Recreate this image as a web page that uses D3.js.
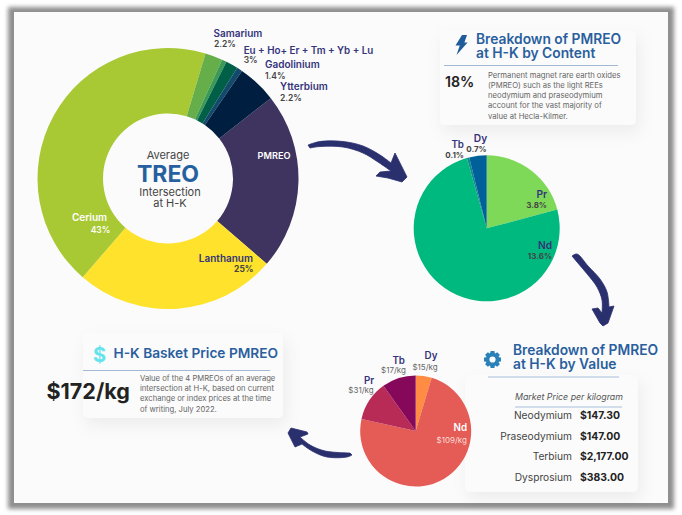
<!DOCTYPE html>
<html><head><meta charset="utf-8">
<script src="https://d3js.org/d3.v7.min.js"></script>
<style>
html,body{margin:0;padding:0;background:#fff;width:682px;height:515px;overflow:hidden}
svg{display:block;font-family:Inter,"Noto Sans",sans-serif}
</style></head><body>
<svg id="c" width="682" height="515" viewBox="0 0 682 515"></svg>
<script>
// ---- data ----
const treoNames   = ["PMREO","Lanthanum","Cerium","Samarium","Europium group","Gadolinium group","Thin band","Ytterbium"];
const treoSlices  = [21.9,25,43.3,2.15,0.6,1.5,0.7,4.85];
const treoColors  = ["#3f345f","#fee22b","#a9c934","#66ae4a","#3c9a56","#005f47","#134a6b","#001f40"];
const contentNames  = ["Pr","Nd","Tb","Dy"];
const contentValues = [3.8,13.6,0.1,0.7];
const contentColors = ["#7fd958","#00b97f","#0f8a90","#00609a"];
const valueNames  = ["Dy","Nd","Pr","Tb"];
const valueSlices = [8,127,20,17];
const valueColors = ["#ff8c42","#e45c55","#b82b57","#85085a"];
const priceNames  = ["Neodymium","Praseodymium","Terbium","Dysprosium"];
const priceValues = ["$147.30","$147.00","$2,177.00","$383.00"];

const svg = d3.select("#c");
const defs = svg.append("defs");
const blur = defs.append("filter").attr("id","frameBlur").attr("x","-5%").attr("y","-5%").attr("width","110%").attr("height","110%");
blur.append("feGaussianBlur").attr("stdDeviation",2);
const sh = defs.append("filter").attr("id","cardShadow").attr("x","-15%").attr("y","-25%").attr("width","130%").attr("height","160%");
sh.append("feDropShadow").attr("dx",3).attr("dy",7).attr("stdDeviation",8).attr("flood-color","#000").attr("flood-opacity",0.06);

// frame
svg.append("rect").attr("x",8).attr("y",7).attr("width",666).attr("height",502).attr("fill","#8f8f8f").attr("filter","url(#frameBlur)");
svg.append("rect").attr("x",14).attr("y",12).attr("width",654).attr("height",491).attr("fill","#fbfbfb");

// cards
function card(x,y,w,h){
  svg.append("rect").attr("x",x).attr("y",y).attr("width",w).attr("height",h).attr("rx",5)
    .attr("fill","#fbfbfb").attr("filter","url(#cardShadow)");
}
card(440,30,196,95);
card(83,333,200,85);
card(465,375,173,117);

// pies
function pie(cx,cy,r0,r1,vals,cols,startDeg){
  const p = d3.pie().sort(null).value(d=>d)
    .startAngle(startDeg*Math.PI/180).endAngle((startDeg+360)*Math.PI/180)(vals);
  const arc = d3.arc().innerRadius(r0).outerRadius(r1);
  svg.append("g").attr("transform",`translate(${cx},${cy})`)
    .selectAll("path").data(p).join("path").attr("d",arc).attr("fill",(d,i)=>cols[i]);
}
pie(168,178.5,65,130.5,treoSlices,treoColors,52);
pie(486.7,228.3,0,73,contentValues,contentColors,0);
pie(415.7,431,0,55.5,valueSlices,valueColors,0);

function t(s,x,y,size,weight,fill,anchor,style){
  return svg.append("text").attr("x",x).attr("y",y).attr("font-size",size).attr("font-weight",weight)
    .attr("fill",fill).attr("text-anchor",anchor||"start").attr("font-style",style||"normal").text(s);
}
const NAVY="#34347a", DK="#444", BLUE="#2a5f9e", GR="#666";

// donut labels
t("Samarium",213.5,37,10,600,NAVY); t("2.2%",214,47,8.5,600,DK);
t("Eu + Ho+ Er + Tm + Yb + Lu",243.7,53.5,9.8,600,NAVY); t("3%",243.7,63,8.5,600,DK);
t("Gadolinium",265,68,10,600,NAVY); t("1.4%",265,79,8.5,600,DK);
t("Ytterbium",280,90,10,600,NAVY); t("2.2%",280,101,8.5,600,DK);
t("PMREO",274,159,9.2,600,"#fff","middle");
t("Cerium",89.5,220.5,10,600,"#fff","middle"); t("43%",100.5,233,8.5,600,"#fff","middle");
t("Lanthanum",253,262,10,600,NAVY,"end"); t("25%",253.5,272,8.5,700,DK,"end");
t("Average",168,158.5,11,400,"#444","middle");
t("TREO",168,181.5,23,700,"#27609f","middle");
t("Intersection",170,195.5,11,400,"#444","middle");
t("at H-K",170,206.5,11,400,"#444","middle");

// content pie labels
t("Tb",464,148,9.8,600,NAVY,"end"); t("0.1%",464,158,8,700,DK,"end");
t("Dy",480.5,142,10.2,600,NAVY,"middle"); t("0.7%",476.5,152,8,700,DK,"middle");
t("Pr",547,198,10.2,600,NAVY,"end"); t("3.8%",547,208,8,700,DK,"end");
t("Nd",552,249,10.2,600,NAVY,"end"); t("13.6%",552,259,8,700,DK,"end");

// value pie labels
t("Dy",431,359,9.8,600,NAVY,"middle"); t("$15/kg",425,370,8,400,GR,"middle");
t("Tb",398.7,364,9.8,600,NAVY,"middle"); t("$17/kg",393.5,373,8,400,GR,"middle");
t("Pr",369,384,9.8,600,NAVY,"middle"); t("$31/kg",361,393,8,400,GR,"middle");
t("Nd",467,431,9.8,600,"#fff","end"); t("$109/kg",467,443,8,400,"#fbdcd8","end");

// card 1
t("Breakdown of PMREO",476,43.5,13.8,600,BLUE);
t("at H-K by Content",476,57.5,13.8,600,BLUE);
svg.append("path").attr("d","M462 35 L467 35 L464.4 42.5 L467.6 42.5 L456.5 55 L459.8 45.5 L455.5 45.5 Z").attr("fill","#1f5c99");
svg.append("line").attr("x1",444).attr("x2",618).attr("y1",65.5).attr("y2",65.5).attr("stroke","#8aa8cc").attr("stroke-width",.8);
t("18%",445,87,14.2,600,"#222");
["Permanent magnet rare earth oxides","(PMREO) such as the light REEs","neodymium and praseodymium","account for the vast majority of","value at Hecla-Kilmer."]
  .forEach((s,i)=>t(s,488,78+i*10.15,7.7,400,GR));

// card 2
t("$",99.5,362,20,700,"#63e3ec","middle");
t("H-K Basket Price PMREO",113.5,358,13.7,600,BLUE);
svg.append("line").attr("x1",83).attr("x2",270).attr("y1",370.5).attr("y2",370.5).attr("stroke","#8aa8cc").attr("stroke-width",.8);
t("$172/kg",46.5,398.5,21.5,700,"#222");
["Value of the 4 PMREOs of an average","intersection at H-K, based on current","exchange or index prices at the time","of writing, July 2022."]
  .forEach((s,i)=>t(s,140,381+i*10.2,7.65,400,GR));

// card 3
t("Breakdown of PMREO",513,354.5,13.8,600,BLUE);
t("at H-K by Value",513,368.5,13.8,600,BLUE);
const gearPts = d3.range(0,8).flatMap(i=>{
  const a=i*Math.PI/4;
  return [[a-0.22,8.7],[a+0.22,8.7],[a+0.36,6.7],[a+Math.PI/4-0.36,6.7]];
});
svg.append("path").attr("transform","translate(492.5,359.5)")
  .attr("d",d3.lineRadial().angle(d=>d[0]).radius(d=>d[1]).curve(d3.curveLinearClosed)(gearPts)+" M3.1 0 A3.1 3.1 0 1 0 -3.1 0 A3.1 3.1 0 1 0 3.1 0 Z")
  .attr("fill","#2a80b9").attr("fill-rule","evenodd");
svg.append("line").attr("x1",488).attr("x2",619).attr("y1",377).attr("y2",377).attr("stroke","#a9c0dc").attr("stroke-width",1.2);
t("Market Price per kilogram",515,400,8.8,400,"#555","start","italic");
svg.append("line").attr("x1",515).attr("x2",622).attr("y1",407).attr("y2",407).attr("stroke","#a9c0dc").attr("stroke-width",1);
priceNames.forEach((n,i)=>{
  const y=[419,439.5,460,480.5][i];
  t(n,572,y,10.2,400,"#444","end");
  t(priceValues[i],580,y,10.4,700,"#222");
});

// hand-drawn arrows (decoration): smooth shaft edges, sharp head
const arrowShapes = [
 {upper:[[308,145],[320,141.5],[343,141.5],[363,146],[380,155],[391,163]],
  head:[[395,153],[407,177],[402,182],[388,178],[376,176],[380,172],[391,171]],
  lower:[[391,171],[378,162],[363,153],[343,147],[320,146.5],[310,148]]},
 {upper:[[572,256],[577,254],[588,266],[600,279],[607,292],[609,307]],
  head:[[614,306],[608,323],[603,326],[600,323],[592,309],[598,308],[602,313]],
  lower:[[602,313],[602,300],[597,287],[588,275],[577,262]]},
 {upper:[[352,455],[347,457],[327,457],[312,451],[302,444]],
  head:[[295,447],[288,433],[291,428],[307,432],[308,434],[300,437]],
  lower:[[300,437],[310,445],[325,451],[350,453]]}
];
const smooth = d3.line().curve(d3.curveCatmullRom.alpha(0.5));
arrowShapes.forEach(a=>{
  const d = smooth(a.upper) + a.head.map(p=>"L"+p).join("") + "L" + smooth(a.lower).slice(1) + "Z";
  svg.append("path").attr("d",d).attr("fill","#2a2f6e").attr("stroke","#2a2f6e").attr("stroke-width",.8).attr("stroke-linejoin","round");
});
</script>
</body></html>
